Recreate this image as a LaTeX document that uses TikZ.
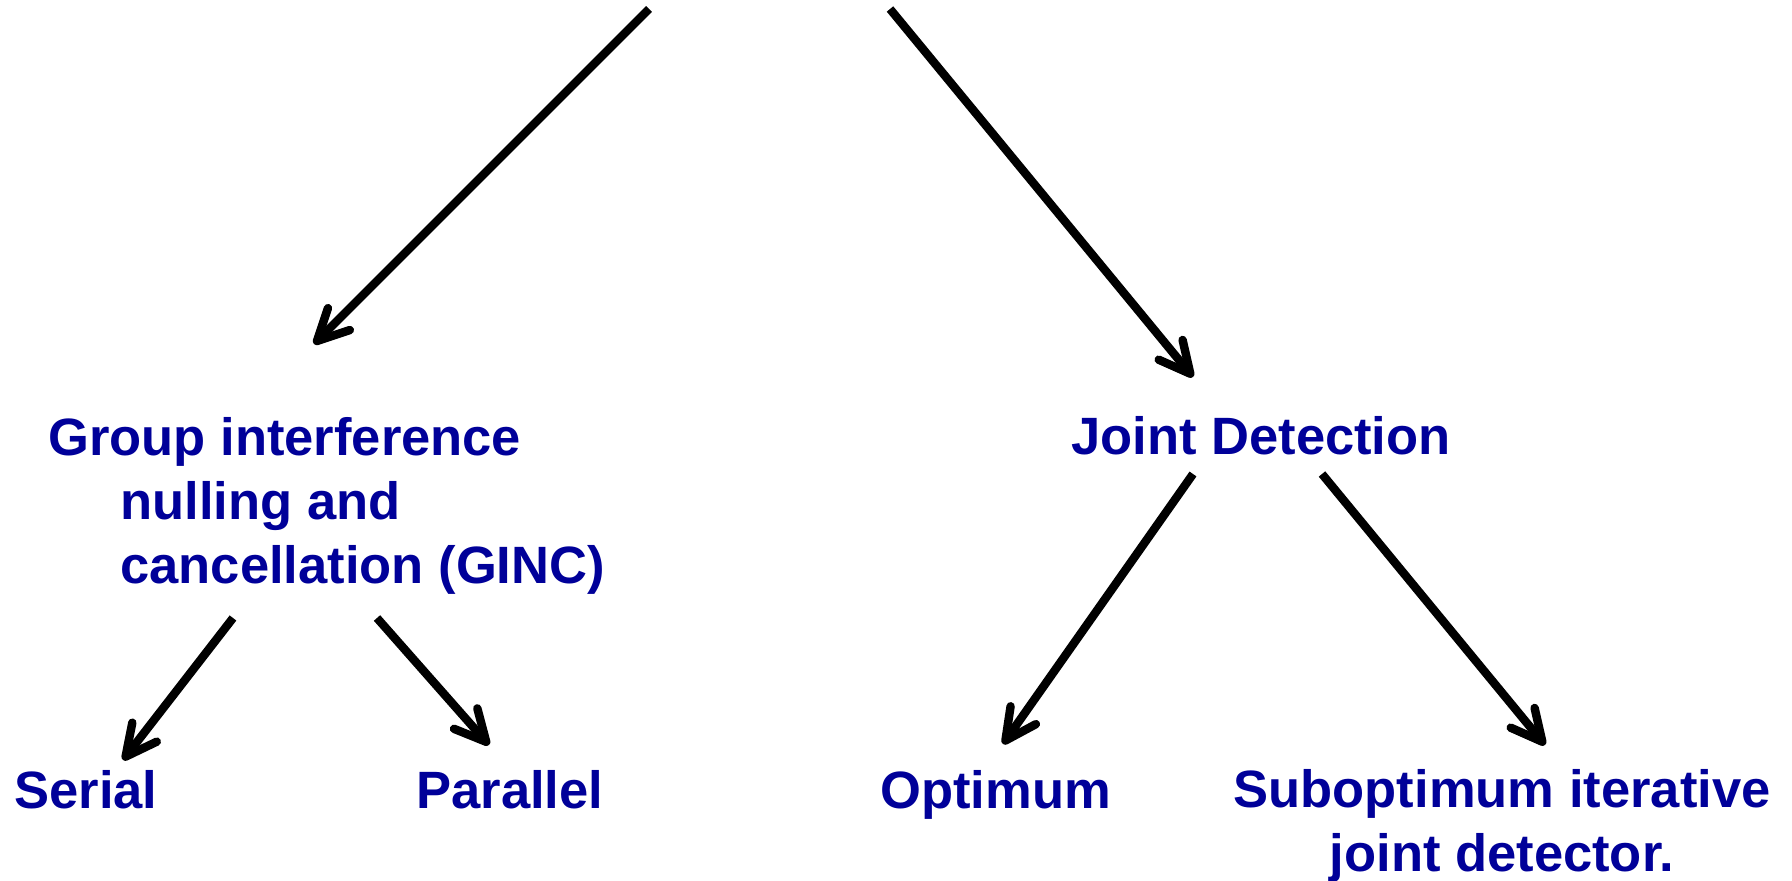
\documentclass[tikz,border=0pt]{standalone}
\usepackage{fontspec}
\setmainfont{Liberation Sans}
\usetikzlibrary{arrows.meta}
\definecolor{txtblue}{RGB}{0,0,153}

\begin{document}
\begin{tikzpicture}[x=0.02cm,y=-0.02cm,
  lbl/.style={inner sep=0pt,text=txtblue,font=\fontsize{29.9}{36.4}\selectfont\bfseries},
  arr/.style={line width=4.8pt,-{Straight Barb[length=0.62cm,width=0.62cm,round]}}]
\useasboundingbox (0,0) rectangle (1792,881);

\node[lbl,anchor=north west,align=left] (ginc) at (48,417) {Group interference\\\hspace*{1.44cm}nulling and\\\hspace*{1.44cm}cancellation (GINC)};
\node[lbl,anchor=base west] (jd) at (1071,455) {Joint Detection};
\node[lbl,anchor=base west] (serial) at (14,808) {Serial};
\node[lbl,anchor=base west] (par) at (416,808) {Parallel};
\node[lbl,anchor=base west] (opt) at (880,808) {Optimum};
\node[lbl,anchor=north,align=center] (subopt) at (1502,769) {Suboptimum iterative\\joint detector.};

\coordinate (topl) at (649,9);
\coordinate (topr) at (890,9);
\coordinate (ginc-in) at (314,344);
\coordinate (jd-in) at (1193,377);
\coordinate (ginc-l) at (233,618);
\coordinate (ginc-r) at (377,618);
\coordinate (serial-in) at (123,760);
\coordinate (par-in) at (489,745);
\coordinate (jd-l) at (1193,474);
\coordinate (jd-r) at (1322,474);
\coordinate (opt-in) at (1003,744);
\coordinate (subopt-in) at (1545,745);

\draw[arr] (topl)--(ginc-in);
\draw[arr] (topr)--(jd-in);
\draw[arr] (ginc-l)--(serial-in);
\draw[arr] (ginc-r)--(par-in);
\draw[arr] (jd-l)--(opt-in);
\draw[arr] (jd-r)--(subopt-in);
\end{tikzpicture}
\end{document}
